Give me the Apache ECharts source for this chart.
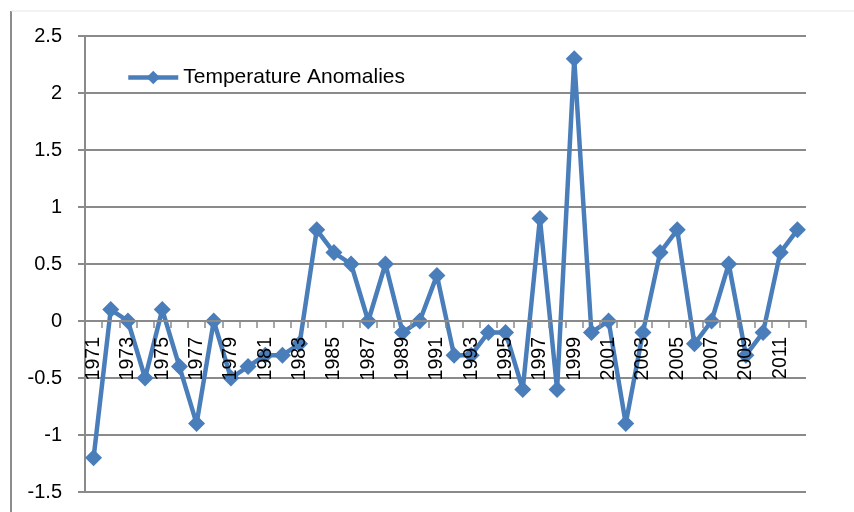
<!DOCTYPE html>
<html>
<head>
<meta charset="utf-8">
<script src="https://cdn.jsdelivr.net/npm/echarts@6/dist/echarts.min.js"></script>
<style>
  html, body { margin: 0; padding: 0; background: #fff; }
  #chart { width: 854px; height: 512px; }
</style>
</head>
<body>
<div id="chart"></div>
<script>
// Yearly temperature anomalies, 1971-2012
const years = [
  '1971','1972','1973','1974','1975','1976','1977','1978','1979','1980',
  '1981','1982','1983','1984','1985','1986','1987','1988','1989','1990',
  '1991','1992','1993','1994','1995','1996','1997','1998','1999','2000',
  '2001','2002','2003','2004','2005','2006','2007','2008','2009','2010',
  '2011','2012'
];
const anomalies = [
  -1.2, 0.1, 0, -0.5, 0.1, -0.4, -0.9, 0, -0.5, -0.4,
  -0.3, -0.3, -0.2, 0.8, 0.6, 0.5, 0, 0.5, -0.1, 0,
  0.4, -0.3, -0.3, -0.1, -0.1, -0.6, 0.9, -0.6, 2.3, -0.1,
  0, -0.9, -0.1, 0.6, 0.8, -0.2, 0, 0.5, -0.3, -0.1,
  0.6, 0.8
];
const seriesName = 'Temperature Anomalies';
const yTicks = { min: -1.5, max: 2.5, step: 0.5 };

const FONT = '"Liberation Sans", Arial, sans-serif';
const BLUE = '#4a7ebb';
const GRID_GRAY = '#8a8a8a';

// plot box
const W = 854, H = 512;
const G = { left: 85, right: 48, top: 36, bottom: 20 };
const plotH = H - G.top - G.bottom;
// the category axis sits on the zero line: lift it from the bottom edge
const zeroLift = plotH * (0 - yTicks.min) / (yTicks.max - yTicks.min);

const chart = echarts.init(document.getElementById('chart'), null, { renderer: 'canvas' });
chart.setOption({
  animation: false,
  backgroundColor: '#ffffff',
  textStyle: { fontFamily: FONT },
  graphic: [
    // outer frame edges
    { type: 'line', shape: { x1: 11, y1: 11, x2: 11, y2: H },
      style: { stroke: '#8c8c8c', lineWidth: 2 }, silent: true },
    { type: 'line', shape: { x1: 11, y1: 11, x2: W, y2: 11 },
      style: { stroke: '#e6e6e6', lineWidth: 1 }, silent: true }
  ],
  grid: { left: G.left, right: G.right, top: G.top, bottom: G.bottom,
          containLabel: false, outerBoundsMode: 'none' },
  legend: {
    left: 121, top: 62,
    itemWidth: 50, itemHeight: 17, itemGap: 10,
    data: [seriesName],
    lineStyle: { width: 4.5 },
    textStyle: { fontFamily: FONT, fontSize: 21, color: '#000' }
  },
  xAxis: {
    type: 'category',
    data: years,
    boundaryGap: true,
    position: 'bottom',
    offset: -zeroLift,
    z: 10,
    axisLine: { onZero: false, lineStyle: { color: GRID_GRAY, width: 2 } },
    axisTick: { show: true, interval: 0, alignWithLabel: false, length: 7, inside: false,
                lineStyle: { color: GRID_GRAY, width: 1.5 } },
    axisLabel: { interval: 1, rotate: 90, margin: 16, color: '#000',
                 fontFamily: FONT, fontSize: 19.5 },
    splitLine: { show: false }
  },
  yAxis: {
    type: 'value',
    min: yTicks.min, max: yTicks.max, interval: yTicks.step,
    axisLine: { show: true, lineStyle: { color: GRID_GRAY, width: 2 } },
    axisTick: { show: true, length: 7, lineStyle: { color: GRID_GRAY, width: 2 } },
    axisLabel: { margin: 23, color: '#000', fontFamily: FONT, fontSize: 20 },
    splitLine: { show: true, lineStyle: { color: GRID_GRAY, width: 2 } }
  },
  series: [{
    name: seriesName,
    type: 'line',
    data: anomalies,
    symbol: 'diamond',
    symbolSize: 17,
    showAllSymbol: true,
    lineStyle: { color: BLUE, width: 4.5 },
    itemStyle: { color: BLUE, borderWidth: 0 },
    z: 3
  }]
});
</script>
</body>
</html>
